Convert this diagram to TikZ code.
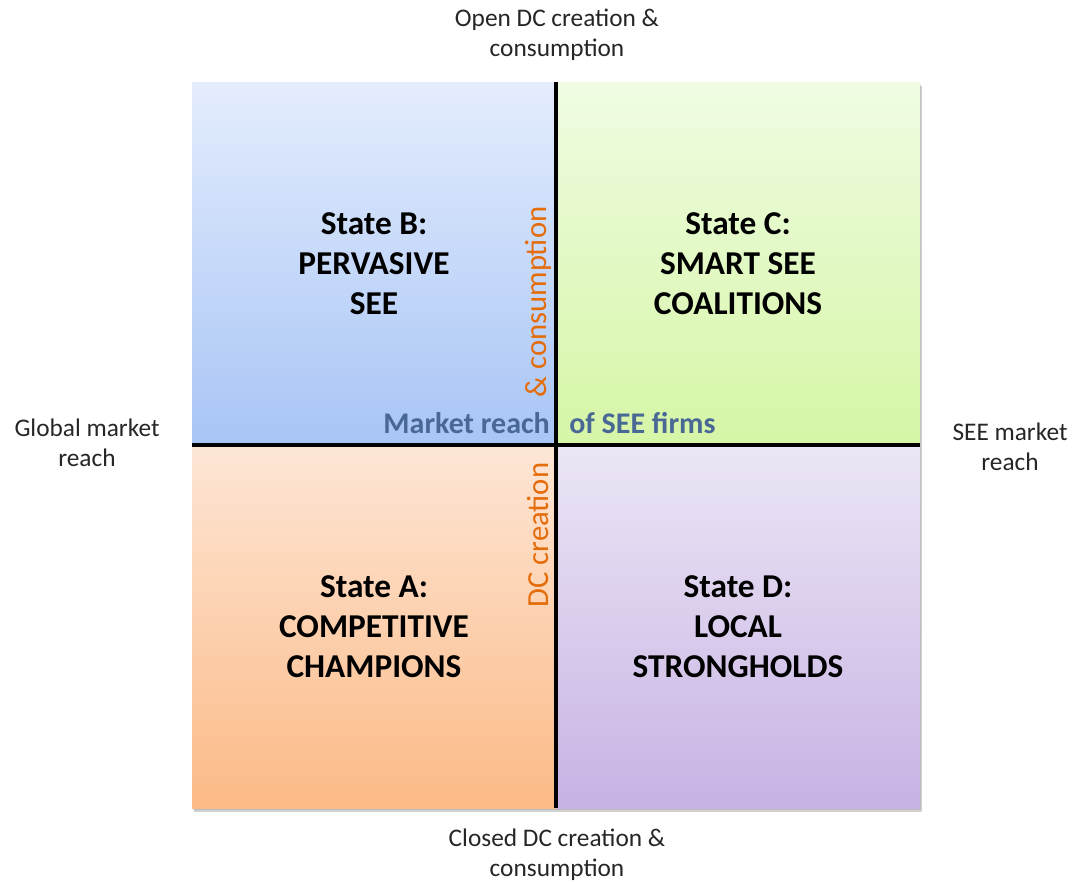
\documentclass[tikz,border=0pt]{standalone}
\usepackage{fontspec}
\setmainfont{Carlito}
\definecolor{Btop}{HTML}{E4EDFD}
\definecolor{Bbot}{HTML}{A8C5F6}
\definecolor{Ctop}{HTML}{EFFCE2}
\definecolor{Cbot}{HTML}{D6F6A6}
\definecolor{Atop}{HTML}{FDE6D6}
\definecolor{Abot}{HTML}{FCBA86}
\definecolor{Dtop}{HTML}{ECE6F5}
\definecolor{Dbot}{HTML}{C7B3E4}
\definecolor{axisblue}{HTML}{4A6896}
\definecolor{axisorange}{HTML}{E46C0A}
\definecolor{labelgray}{HTML}{262626}
\tikzset{
  quad/.style={minimum width=273pt, minimum height=272.25pt, inner sep=0pt, outer sep=0pt, align=center,
    font=\fontsize{25}{30}\selectfont\bfseries, text=black},
  outer/.style={align=center, font=\fontsize{19}{22.5}\selectfont, text=labelgray},
  axisH/.style={font=\fontsize{22.5}{26}\selectfont\bfseries, text=axisblue, inner sep=0pt},
  axisV/.style={font=\fontsize{23}{26}\selectfont, text=axisorange, rotate=90, inner sep=0pt},
  divider/.style={line width=3pt, black}
}
\begin{document}
\begin{tikzpicture}[x=0.75pt,y=-0.75pt]
\useasboundingbox (0,0) rectangle (1072,882);
% shadow
\fill[black, opacity=0.18] (194,86) rectangle (922,812);
\fill[black, opacity=0.10] (193,84) rectangle (921,810);
% quadrants
\node[quad, top color=Btop, bottom color=Bbot] (qB) at (374,263.5) {State B:\\PERVASIVE\\SEE};
\node[quad, top color=Ctop, bottom color=Cbot] (qC) at (738,263.5) {State C:\\SMART SEE\\COALITIONS};
\node[quad, top color=Atop, bottom color=Abot] (qA) at (374,626.5) {State A:\\COMPETITIVE\\CHAMPIONS};
\node[quad, top color=Dtop, bottom color=Dbot] (qD) at (738,626.5) {State D:\\LOCAL\\STRONGHOLDS};
% dividers
\draw[divider] (qB.north east) -- (qA.south east);
\draw[divider] (qA.north west) -- (qD.north east);
% axis labels
\node[axisH, anchor=east] (mr1) at (550,423) {Market reach};
\node[axisH, anchor=west] (mr2) at (569,423) {of SEE firms};
\node[axisV] (dc1) at (538,302) {\& consumption};
\node[axisV] (dc2) at (538,535) {DC creation};
% outer labels
\node[outer] (top) at (557,35) {Open DC creation \&\\consumption};
\node[outer] (bottom) at (557,855) {Closed DC creation \&\\consumption};
\node[outer] (left) at (87,443) {Global market\\reach};
\node[outer] (right) at (1010,447) {SEE market\\reach};
\end{tikzpicture}
\end{document}
